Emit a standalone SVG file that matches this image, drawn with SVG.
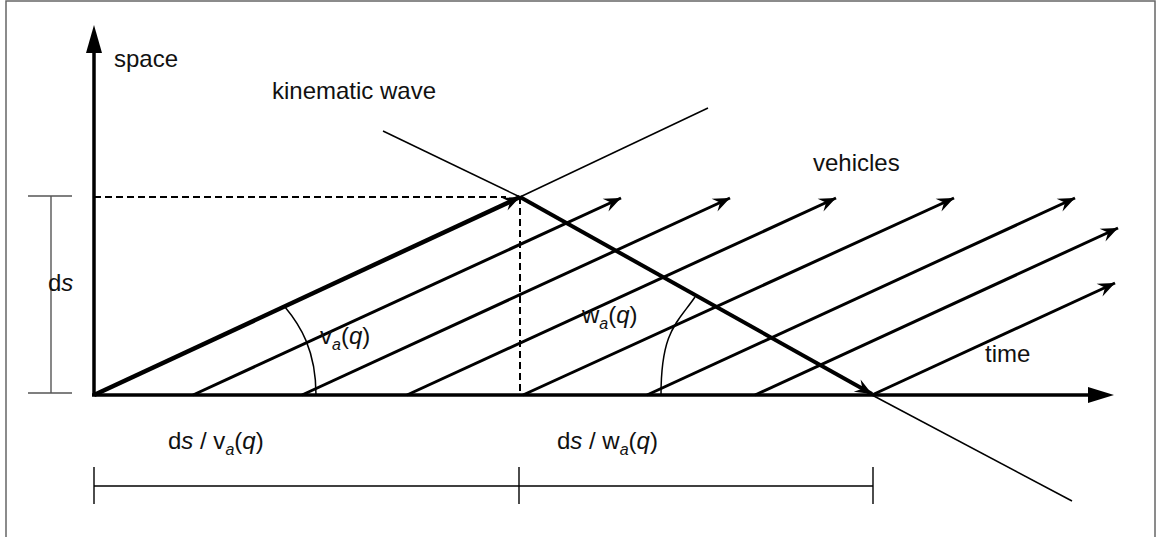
<svg xmlns="http://www.w3.org/2000/svg" width="1163" height="537" viewBox="0 0 1163 537">
<style>
text{font-family:"Liberation Sans",Arial,sans-serif;font-size:24px;fill:#111}
.it{font-style:italic}
.sub{font-size:16px;font-style:italic}
.veh{stroke:#000;stroke-width:3;fill:none}
.thin{stroke:#000;stroke-width:1.5;fill:none}
.dash{stroke:#000;stroke-width:2;stroke-dasharray:7 4;fill:none}
.dim{stroke:#000;stroke-width:1.4;fill:none}
.gdim{stroke:#555;stroke-width:1.4;fill:none}
.axis{stroke:#000;stroke-width:3.5;fill:none}
</style>
<defs>
<marker id="ah" markerUnits="userSpaceOnUse" viewBox="-18 -8 19 16" refX="0" refY="0" markerWidth="19" markerHeight="16" orient="auto">
<path d="M0,0 L-17,-7 L-11,0 L-17,7 Z" fill="#000"/>
</marker>
</defs>
<rect x="6" y="1" width="1149" height="560" fill="#fff" stroke="#666" stroke-width="1.5"/>
<g id="axes">
<line class="axis" x1="94" y1="396" x2="94" y2="50"/>
<polygon points="94,25 86,53 102,53" fill="#000"/>
<line class="axis" x1="92" y1="395" x2="1090" y2="395"/>
<polygon points="1114,395 1088,387 1088,403" fill="#000"/>
</g>
<g id="connectors">
<line class="dash" x1="94" y1="197" x2="506" y2="197"/>
<line class="dash" x1="520" y1="197" x2="520" y2="395"/>
<line class="thin" x1="520" y1="197" x2="708" y2="108"/>
<line class="thin" x1="383" y1="131" x2="520" y2="197"/>
<line class="thin" x1="872" y1="395" x2="1072" y2="501"/>
<line x1="94" y1="395" x2="520" y2="197" stroke="#000" stroke-width="4.5" marker-end="url(#ah)"/>
<line class="veh" x1="193" y1="395" x2="621" y2="198" marker-end="url(#ah)"/>
<line class="veh" x1="302" y1="395" x2="730" y2="198" marker-end="url(#ah)"/>
<line class="veh" x1="407" y1="395" x2="836" y2="198" marker-end="url(#ah)"/>
<line class="veh" x1="523" y1="395" x2="954" y2="198" marker-end="url(#ah)"/>
<line class="veh" x1="647" y1="395" x2="1075" y2="198" marker-end="url(#ah)"/>
<line class="veh" x1="755" y1="395" x2="1118" y2="228" marker-end="url(#ah)"/>
<line class="veh" x1="872" y1="395" x2="1115" y2="283" marker-end="url(#ah)"/>
<line x1="520" y1="197" x2="872" y2="394" stroke="#000" stroke-width="4" marker-end="url(#ah)"/>
<path class="thin" d="M285,307 C300,325 316,350 316,395"/>
<path class="thin" d="M695,297 C678,322 661,330 661,395"/>
<line class="gdim" x1="51" y1="196" x2="51" y2="393"/>
<line class="gdim" x1="28" y1="196" x2="72" y2="196"/>
<line class="gdim" x1="28" y1="393" x2="72" y2="393"/>
<line class="dim" x1="94" y1="486" x2="873" y2="486"/>
<line class="dim" x1="94" y1="467" x2="94" y2="504"/>
<line class="dim" x1="519" y1="467" x2="519" y2="504"/>
<line class="dim" x1="873" y1="467" x2="873" y2="504"/>
</g>
<g id="labels">
<text id="space" x="114" y="67">space</text>
<text id="kinematic-wave" x="272" y="99">kinematic wave</text>
<text id="vehicles" x="813" y="171">vehicles</text>
<text id="time" x="985" y="362">time</text>
<text id="ds" x="48" y="291">d<tspan class="it">s</tspan></text>
<text id="va" x="320" y="344">v<tspan class="sub" dy="6">a</tspan><tspan dy="-6">(</tspan><tspan class="it">q</tspan>)</text>
<text id="wa" x="582" y="323">w<tspan class="sub" dy="6">a</tspan><tspan dy="-6">(</tspan><tspan class="it">q</tspan>)</text>
<text id="ds-va" x="168" y="449">d<tspan class="it">s</tspan> / v<tspan class="sub" dy="6">a</tspan><tspan dy="-6">(</tspan><tspan class="it">q</tspan>)</text>
<text id="ds-wa" x="557" y="449">d<tspan class="it">s</tspan> / w<tspan class="sub" dy="6">a</tspan><tspan dy="-6">(</tspan><tspan class="it">q</tspan>)</text>
</g>
</svg>
